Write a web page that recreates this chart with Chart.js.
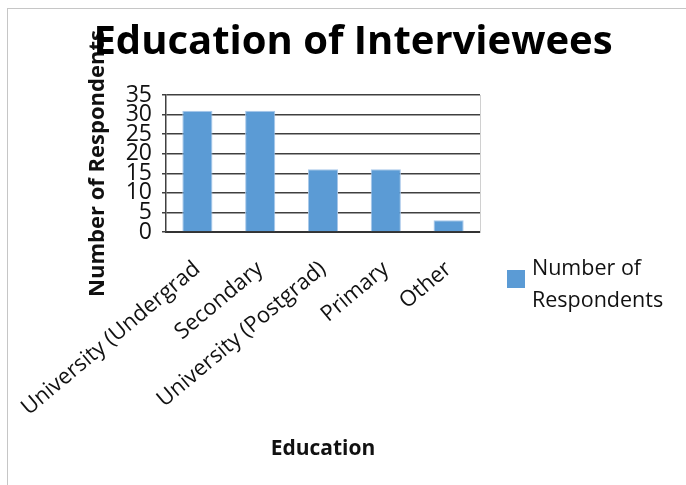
<!DOCTYPE html>
<html>
<head>
<meta charset="utf-8">
<script src="https://cdn.jsdelivr.net/npm/chart.js@4.4.0/dist/chart.umd.min.js"></script>
<style>
html, body { margin: 0; padding: 0; background: #fff; }
#frame { position: absolute; left: 7px; top: 8px; right: 0; bottom: 0; border-left: 1px solid #c6c6c6; border-top: 1px solid #c6c6c6; }
#wrap { position: absolute; left: 0; top: 0; width: 686px; height: 485px; }
</style>
</head>
<body>
<div id="frame"></div>
<div id="wrap"><canvas id="grafico" width="686" height="485"></canvas></div>
<script>
const categories = ["University (Undergrad", "Secondary", "University (Postgrad)", "Primary", "Other"];
const respondents = [31, 31, 16, 16, 3];
const seriesName = "Number of Respondents";
const legendLines = ["Number of", "Respondents"];
const chartTitle = "Education of Interviewees";
const xTitle = "Education";
const yMax = 35;
const yStep = 5;

const fontFamily = "'Open Sans', 'DejaVu Sans', sans-serif";
const ctx = document.getElementById("grafico").getContext("2d");

// legend drawn by hand so the label can wrap onto two lines
const legendPlugin = {
    id: "legendaDireita",
    afterDraw(chart) {
        const c = chart.ctx;
        const ds = chart.data.datasets[0];
        const x = chart.chartArea.right + 27;
        c.save();
        c.fillStyle = ds.backgroundColor;
        c.fillRect(x, 270, 18, 18);
        c.fillStyle = "#111";
        c.font = "21.5px " + fontFamily;
        c.textBaseline = "alphabetic";
        legendLines.forEach((t, i) => c.fillText(t, x + 25, 275 + i * 32));
        c.restore();
    }
};

new Chart(ctx, {
    type: "bar",
    data: {
        labels: categories,
        datasets: [{
            label: seriesName,
            data: respondents,
            backgroundColor: "#5b9bd5",
            borderColor: "#a9c8ea",
            borderWidth: 1,
            barPercentage: 0.48,
            categoryPercentage: 1
        }]
    },
    options: {
        responsive: false,
        animation: false,
        layout: { padding: { left: 20, right: 0, top: 0, bottom: 19 } },
        plugins: {
            legend: { display: false },
            tooltip: { enabled: false },
            title: {
                display: true,
                text: chartTitle,
                color: "#000",
                font: { family: fontFamily, size: 40, weight: "bold", lineHeight: 1.2 },
                padding: { top: 19, bottom: 28 }
            }
        },
        scales: {
            x: {
                grid: { display: false },
                border: { display: true, color: "#333", width: 2 },
                ticks: {
                    color: "#111",
                    font: { family: fontFamily, size: 22 },
                    minRotation: 40,
                    maxRotation: 40,
                    autoSkip: false,
                    padding: 16
                },
                title: {
                    display: true,
                    text: xTitle,
                    color: "#111",
                    font: { family: fontFamily, size: 21, weight: "bold", lineHeight: 1.2 },
                    padding: { top: 0, bottom: 4 }
                },
                afterFit(s) {
                    s.height = 234;
                    s.paddingLeft = 0;
                    s.paddingRight = 0;
                }
            },
            y: {
                min: 0,
                max: yMax,
                ticks: {
                    stepSize: yStep,
                    autoSkip: false,
                    color: "#111",
                    padding: 10,
                    font: { family: fontFamily, size: 23, lineHeight: 1 }
                },
                grid: { color: "#404040", lineWidth: 1.5, tickLength: 4 },
                border: { color: "#404040", width: 1.5 },
                title: {
                    display: true,
                    text: seriesName,
                    color: "#111",
                    font: { family: fontFamily, size: 22, weight: "bold", lineHeight: 1.2 },
                    padding: { top: 65, bottom: 0 }
                },
                afterFit(s) {
                    s.width = 146;
                    s.paddingTop = 0;
                    s.paddingBottom = 0;
                }
            },
            yRight: {
                position: "right",
                grid: { display: false },
                ticks: { display: false },
                border: { display: true, color: "#d0d0d0", width: 1 },
                afterFit(s) { s.width = 206; }
            }
        }
    },
    plugins: [legendPlugin]
});
</script>
</body>
</html>
